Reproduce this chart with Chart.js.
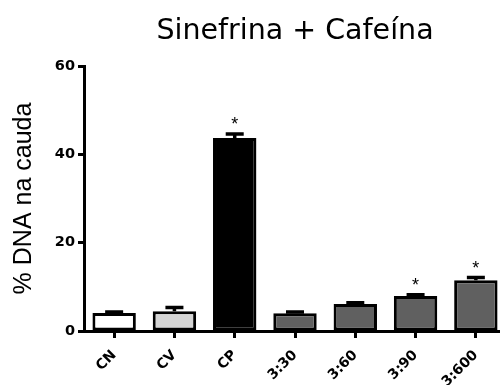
<!DOCTYPE html>
<html>
<head>
<meta charset="utf-8">
<script src="https://cdn.jsdelivr.net/npm/chart.js@4"></script>
<style>
  html, body { margin: 0; padding: 0; background: #fff; overflow: hidden; }
  #wrap { width: 510px; height: 385px; }
</style>
</head>
<body>
<div id="wrap"><canvas id="c" width="510" height="385"></canvas></div>
<script>
// data
const groups = ["CN", "CV", "CP", "3:30", "3:60", "3:90", "3:600"];
const means = [4.1, 4.5, 43.7, 4.0, 6.1, 7.9, 11.5];
const sem = [0.2, 0.8, 0.9, 0.3, 0.3, 0.3, 0.6];
const signif = [false, false, true, false, false, true, true];
const fills = ["#ffffff", "#d4d4d4", "#000000", "#606060", "#606060", "#606060", "#606060"];
const yTicks = [0, 20, 40, 60];

// error bars + asterisks, and centre the title over the plot area
const extras = {
  id: "extras",
  afterLayout(chart) {
    chart.titleBlock.left = chart.chartArea.left;
    chart.titleBlock.right = chart.chartArea.right;
  },
  afterDatasetsDraw(chart) {
    const ctx = chart.ctx;
    const y = chart.scales.y;
    const meta = chart.getDatasetMeta(0);
    ctx.save();
    ctx.strokeStyle = "#000";
    ctx.fillStyle = "#000";
    ctx.lineWidth = 3.5;
    meta.data.forEach((bar, i) => {
      const top = y.getPixelForValue(means[i]);
      const end = y.getPixelForValue(means[i] + sem[i]);
      ctx.beginPath();
      ctx.moveTo(bar.x, top);
      ctx.lineTo(bar.x, end);
      ctx.moveTo(bar.x - 9, end);
      ctx.lineTo(bar.x + 9, end);
      ctx.stroke();
      if (signif[i]) {
        ctx.font = "18px 'Liberation Sans', Arial";
        ctx.textAlign = "center";
        ctx.textBaseline = "middle";
        ctx.fillText("*", bar.x, end - 9);
      }
    });
    ctx.restore();
  }
};

new Chart(document.getElementById("c"), {
  type: "bar",
  data: {
    labels: groups,
    datasets: [{
      data: means,
      backgroundColor: fills,
      borderColor: "#000",
      borderWidth: 3,
      borderSkipped: false,
      categoryPercentage: 1,
      barPercentage: 0.72
    }]
  },
  options: {
    responsive: false,
    animation: false,
    layout: { padding: { top: 0, left: 0, right: 4, bottom: 0 } },
    plugins: {
      legend: { display: false },
      tooltip: { enabled: false },
      title: {
        display: true,
        text: "Sinefrina + Cafeína",
        color: "#000",
        font: { family: "'DejaVu Sans'", size: 28.5, weight: "normal" },
        padding: { top: 14, bottom: 17.8 }
      }
    },
    scales: {
      x: {
        afterFit(s) { s.height = 54; },
        border: { display: true, color: "#000", width: 3 },
        grid: { display: true, offset: false, drawOnChartArea: false, tickLength: 7, tickWidth: 3, tickColor: "#000" },
        ticks: {
          color: "#000",
          maxRotation: 45, minRotation: 45,
          padding: 9,
          font: { family: "'DejaVu Sans'", size: 14, weight: "bold" }
        }
      },
      y: {
        min: 0, max: 60,
        afterFit(s) { s.width = 84; },
        afterBuildTicks(s) { s.ticks = yTicks.map(v => ({ value: v })); },
        border: { display: true, color: "#000", width: 3 },
        grid: { display: true, drawOnChartArea: false, tickLength: 6, tickWidth: 3, tickColor: "#000" },
        ticks: {
          color: "#000",
          padding: 3,
          font: { family: "'DejaVu Sans'", size: 14.5, weight: "bold" }
        },
        title: {
          display: true,
          text: "% DNA na cauda",
          color: "#000",
          padding: { top: 9, bottom: 0 },
          font: { family: "'Liberation Sans', Arial", size: 25, weight: "normal" }
        }
      }
    }
  },
  plugins: [extras]
});
</script>
</body>
</html>
